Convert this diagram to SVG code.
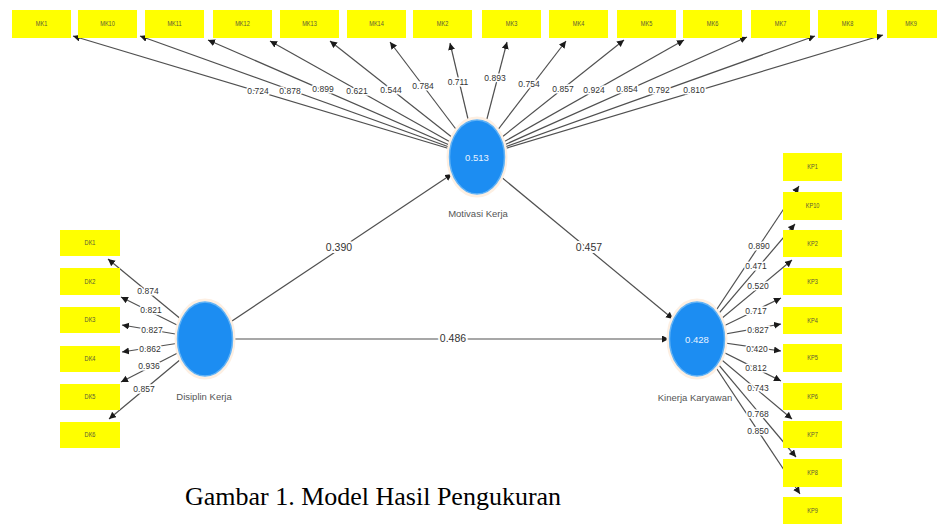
<svg xmlns="http://www.w3.org/2000/svg" width="937" height="524" viewBox="0 0 937 524">
<style>
.box{fill:#ffff00;}
.bt{font-family:"Liberation Sans",Arial,sans-serif;font-size:7.5px;fill:#5a5a3a;text-anchor:middle;transform-box:fill-box;transform-origin:center;transform:scaleX(0.75);}
.ln{stroke:#505050;stroke-width:1.2;fill:none;marker-end:url(#ah);}
.lb{font-family:"Liberation Sans",Arial,sans-serif;font-size:8.5px;fill:#333;text-anchor:middle;stroke:#fff;stroke-width:3;paint-order:stroke;}
.pl{font-family:"Liberation Sans",Arial,sans-serif;font-size:10.5px;fill:#333;text-anchor:middle;stroke:#fff;stroke-width:4;paint-order:stroke;}
.halo{fill:none;stroke:#fdefe2;stroke-width:3;}
.lv{fill:#1c8df2;stroke:#62b3f6;stroke-width:1.5;}
.lvv{font-family:"Liberation Sans",Arial,sans-serif;font-size:9.5px;fill:#e8f2ff;text-anchor:middle;}
.lvn{font-family:"Liberation Sans",Arial,sans-serif;font-size:9.5px;fill:#555;text-anchor:middle;}
</style>
<defs>
<marker id="ah" markerUnits="userSpaceOnUse" markerWidth="8" markerHeight="8" refX="7" refY="3.5" orient="auto">
<path d="M0,0 L7,3.5 L0,7 z" fill="#1a1a1a"/>
</marker>
</defs>
<rect width="937" height="524" fill="#fff"/>
<g id="connectors">
<line class="ln" x1="477" y1="157" x2="73" y2="36"/>
<line class="ln" x1="477" y1="157" x2="140" y2="36"/>
<line class="ln" x1="477" y1="157" x2="208" y2="40"/>
<line class="ln" x1="477" y1="157" x2="270" y2="41"/>
<line class="ln" x1="477" y1="157" x2="330" y2="41"/>
<line class="ln" x1="477" y1="157" x2="390" y2="42"/>
<line class="ln" x1="477" y1="157" x2="450" y2="43"/>
<line class="ln" x1="477" y1="157" x2="507" y2="42"/>
<line class="ln" x1="477" y1="157" x2="566" y2="41"/>
<line class="ln" x1="477" y1="157" x2="624" y2="40"/>
<line class="ln" x1="477" y1="157" x2="684" y2="40"/>
<line class="ln" x1="477" y1="157" x2="747" y2="37"/>
<line class="ln" x1="477" y1="157" x2="815" y2="36"/>
<line class="ln" x1="477" y1="157" x2="883" y2="35"/>
<line class="ln" x1="205" y1="339" x2="108" y2="259"/>
<line class="ln" x1="205" y1="339" x2="121" y2="297"/>
<line class="ln" x1="205" y1="339" x2="122" y2="325"/>
<line class="ln" x1="205" y1="339" x2="122" y2="352"/>
<line class="ln" x1="205" y1="339" x2="121" y2="382"/>
<line class="ln" x1="205" y1="339" x2="109" y2="419"/>
<line class="ln" x1="697" y1="339" x2="799" y2="186"/>
<line class="ln" x1="697" y1="339" x2="795" y2="224"/>
<line class="ln" x1="697" y1="339" x2="792" y2="260"/>
<line class="ln" x1="697" y1="339" x2="781" y2="298"/>
<line class="ln" x1="697" y1="339" x2="781" y2="324"/>
<line class="ln" x1="697" y1="339" x2="781" y2="351"/>
<line class="ln" x1="697" y1="339" x2="781" y2="381"/>
<line class="ln" x1="697" y1="339" x2="792" y2="419"/>
<line class="ln" x1="697" y1="339" x2="796" y2="457"/>
<line class="ln" x1="697" y1="339" x2="800" y2="494"/>
<line class="ln" x1="205" y1="339" x2="452" y2="174"/>
<line class="ln" x1="477" y1="157" x2="673" y2="319"/>
<line class="ln" x1="205" y1="339" x2="669" y2="339"/>
<g>
<text class="lb" x="258" y="94">0.724</text>
<text class="lb" x="290" y="94">0.878</text>
<text class="lb" x="323" y="92">0.899</text>
<text class="lb" x="357" y="94">0.621</text>
<text class="lb" x="391" y="93">0.544</text>
<text class="lb" x="423" y="89">0.784</text>
<text class="lb" x="458" y="85">0.711</text>
<text class="lb" x="495" y="81">0.893</text>
<text class="lb" x="529" y="87">0.754</text>
<text class="lb" x="563" y="92">0.857</text>
<text class="lb" x="594" y="93">0.924</text>
<text class="lb" x="627" y="92">0.854</text>
<text class="lb" x="659" y="93">0.792</text>
<text class="lb" x="694" y="93">0.810</text>
<text class="lb" x="148" y="294">0.874</text>
<text class="lb" x="151" y="313">0.821</text>
<text class="lb" x="152" y="333">0.827</text>
<text class="lb" x="150" y="352">0.862</text>
<text class="lb" x="149" y="369">0.936</text>
<text class="lb" x="144" y="392">0.857</text>
<text class="lb" x="759" y="249">0.890</text>
<text class="lb" x="756" y="269">0.471</text>
<text class="lb" x="758" y="289">0.520</text>
<text class="lb" x="756" y="314">0.717</text>
<text class="lb" x="758" y="333">0.827</text>
<text class="lb" x="757" y="352">0.420</text>
<text class="lb" x="756" y="371">0.812</text>
<text class="lb" x="758" y="391">0.743</text>
<text class="lb" x="758" y="417">0.768</text>
<text class="lb" x="758" y="434">0.850</text>
<text class="pl" x="339" y="251">0.390</text>
<text class="pl" x="589" y="251">0.457</text>
<text class="pl" x="453" y="342">0.486</text>
</g>
</g>
<g id="MK1"><rect class="box" x="12" y="10" width="59" height="28"/><text class="bt" x="41.5" y="26.5">MK1</text></g>
<g id="MK10"><rect class="box" x="78" y="10" width="59" height="28"/><text class="bt" x="107.5" y="26.5">MK10</text></g>
<g id="MK11"><rect class="box" x="145" y="10" width="59" height="28"/><text class="bt" x="174.5" y="26.5">MK11</text></g>
<g id="MK12"><rect class="box" x="213" y="10" width="59" height="28"/><text class="bt" x="242.5" y="26.5">MK12</text></g>
<g id="MK13"><rect class="box" x="280" y="10" width="59" height="28"/><text class="bt" x="309.5" y="26.5">MK13</text></g>
<g id="MK14"><rect class="box" x="347" y="10" width="59" height="28"/><text class="bt" x="376.5" y="26.5">MK14</text></g>
<g id="MK2"><rect class="box" x="413" y="10" width="59" height="28"/><text class="bt" x="442.5" y="26.5">MK2</text></g>
<g id="MK3"><rect class="box" x="482" y="10" width="59" height="28"/><text class="bt" x="511.5" y="26.5">MK3</text></g>
<g id="MK4"><rect class="box" x="549" y="10" width="59" height="28"/><text class="bt" x="578.5" y="26.5">MK4</text></g>
<g id="MK5"><rect class="box" x="617" y="10" width="59" height="28"/><text class="bt" x="646.5" y="26.5">MK5</text></g>
<g id="MK6"><rect class="box" x="683" y="10" width="59" height="28"/><text class="bt" x="712.5" y="26.5">MK6</text></g>
<g id="MK7"><rect class="box" x="751" y="10" width="59" height="28"/><text class="bt" x="780.5" y="26.5">MK7</text></g>
<g id="MK8"><rect class="box" x="818" y="10" width="59" height="28"/><text class="bt" x="847.5" y="26.5">MK8</text></g>
<g id="MK9"><rect class="box" x="887" y="10" width="59" height="28"/><text class="bt" x="911" y="26.5">MK9</text></g>
<g id="DK1"><rect class="box" x="60" y="230" width="60" height="26"/><text class="bt" x="90" y="245.5">DK1</text></g>
<g id="DK2"><rect class="box" x="60" y="268" width="60" height="27"/><text class="bt" x="90" y="284">DK2</text></g>
<g id="DK3"><rect class="box" x="60" y="307" width="60" height="26"/><text class="bt" x="90" y="322.5">DK3</text></g>
<g id="DK4"><rect class="box" x="60" y="346" width="60" height="26"/><text class="bt" x="90" y="361.5">DK4</text></g>
<g id="DK5"><rect class="box" x="60" y="384" width="60" height="26"/><text class="bt" x="90" y="399.5">DK5</text></g>
<g id="DK6"><rect class="box" x="60" y="422" width="60" height="26"/><text class="bt" x="90" y="437.5">DK6</text></g>
<g id="KP1"><rect class="box" x="783" y="153" width="59" height="28"/><text class="bt" x="812.5" y="169.5">KP1</text></g>
<g id="KP10"><rect class="box" x="783" y="192" width="59" height="28"/><text class="bt" x="812.5" y="208.5">KP10</text></g>
<g id="KP2"><rect class="box" x="783" y="230" width="59" height="27"/><text class="bt" x="812.5" y="246">KP2</text></g>
<g id="KP3"><rect class="box" x="783" y="268" width="59" height="27"/><text class="bt" x="812.5" y="284">KP3</text></g>
<g id="KP4"><rect class="box" x="783" y="307" width="59" height="27"/><text class="bt" x="812.5" y="323">KP4</text></g>
<g id="KP5"><rect class="box" x="783" y="344" width="59" height="28"/><text class="bt" x="812.5" y="360.5">KP5</text></g>
<g id="KP6"><rect class="box" x="783" y="383" width="59" height="27"/><text class="bt" x="812.5" y="399">KP6</text></g>
<g id="KP7"><rect class="box" x="783" y="421" width="59" height="27"/><text class="bt" x="812.5" y="437">KP7</text></g>
<g id="KP8"><rect class="box" x="783" y="459" width="59" height="28"/><text class="bt" x="812.5" y="475.5">KP8</text></g>
<g id="KP9"><rect class="box" x="783" y="497" width="59" height="27"/><text class="bt" x="812.5" y="513">KP9</text></g>
<g id="MotivasiKerja">
<ellipse class="halo" cx="477" cy="157" rx="29" ry="39"/>
<ellipse class="lv" cx="477" cy="157" rx="27.5" ry="37"/>
<text class="lvv" x="477" y="160.5">0.513</text>
<text class="lvn" x="478" y="217">Motivasi Kerja</text>
</g>
<g id="DisiplinKerja">
<ellipse class="halo" cx="205" cy="339" rx="29" ry="39"/>
<ellipse class="lv" cx="205" cy="339" rx="27.5" ry="37"/>
<text class="lvn" x="204" y="400">Disiplin Kerja</text>
</g>
<g id="KinerjaKaryawan">
<ellipse class="halo" cx="697" cy="339" rx="29" ry="39"/>
<ellipse class="lv" cx="697" cy="339" rx="27.5" ry="37"/>
<text class="lvv" x="697" y="342.5">0.428</text>
<text class="lvn" x="695" y="401">Kinerja Karyawan</text>
</g>
<text x="373" y="505" font-family="'Liberation Serif','Times New Roman',serif" font-size="26" fill="#000" text-anchor="middle">Gambar 1. Model Hasil Pengukuran</text>
</svg>
